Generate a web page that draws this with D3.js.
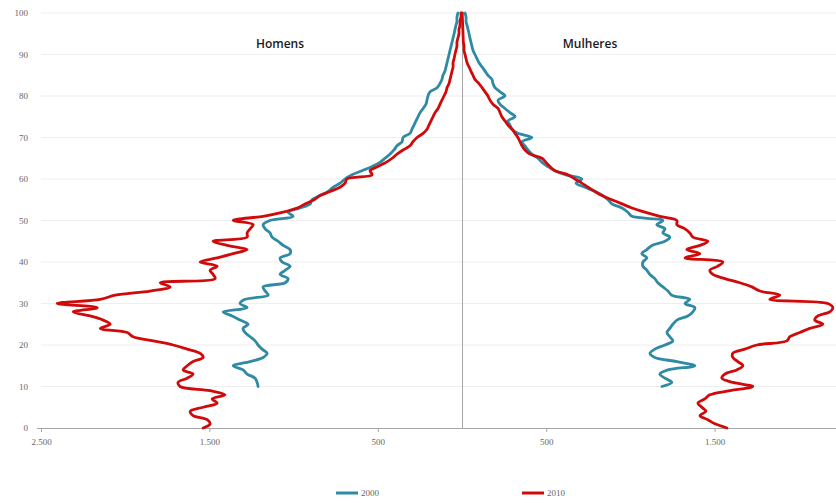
<!DOCTYPE html>
<html><head><meta charset="utf-8">
<script src="https://cdn.jsdelivr.net/npm/d3@7"></script>
<style>html,body{margin:0;padding:0;background:#fff;}svg{display:block;}</style>
</head><body>
<svg id="chart" width="836" height="503"></svg>
<script>
const ages = d3.range(0, 101);
const xTicks = [-2500, -1500, -500, 500, 1500];
const yTicks = [0,10,20,30,40,50,60,70,80,90,100];
const seriesNames = ["2000", "2010"];
const sideLabels = ["Homens", "Mulheres"];

const male2010 = [1537,1496,1513,1597,1614,1537,1454,1484,1407,1496,
1674,1686,1632,1597,1656,1632,1597,1537,1555,1632,
1715,1834,1953,1988,2148,2089,2131,2208,2309,2166,
2404,2148,2059,1852,1733,1792,1466,1478,1496,1454,
1555,1454,1359,1276,1395,1478,1276,1276,1258,1240,
1359,1181,1062,979,932,878,843,783,724,694,
683,534,546,499,451,415,386,350,309,291,
267,231,208,196,184,172,160,142,131,119,
107,95,89,77,71,65,59,53,53,47,
42,36,30,30,24,18,18,12,12,6,6];

const male2000 = [null,null,null,null,null,null,null,null,null,null,
1211,1217,1229,1276,1300,1359,1258,1181,1157,1187,
1211,1229,1258,1288,1300,1270,1318,1365,1418,1276,
1318,1288,1151,1169,1181,1050,1033,1080,1050,1021,
1068,1080,1021,1021,1062,1092,1128,1140,1169,1181,
1140,1003,1033,961,902,890,843,795,766,724,
694,653,594,534,487,457,427,404,386,356,
350,309,297,285,273,261,249,231,214,208,
202,190,148,131,119,113,101,95,89,83,
77,71,65,59,53,47,42,36,30,30,24];

const female2010 = [1573,1502,1460,1413,1448,1424,1401,1442,1472,1591,
1727,1608,1543,1561,1632,1668,1638,1608,1608,1680,
1751,1929,1947,2006,2065,2143,2095,2113,2184,2202,
2172,1828,1887,1769,1721,1650,1561,1490,1472,1519,
1549,1324,1413,1335,1413,1460,1371,1353,1324,1276,
1276,1175,1086,1009,950,890,831,789,748,712,
671,629,552,522,499,475,404,374,356,344,
332,315,297,273,255,237,226,214,184,166,
154,137,119,101,77,65,53,42,30,24,
18,12,12,8,7,6,5,4,3,2,2];

const female2000 = [null,null,null,null,null,null,null,null,null,null,
1187,1246,1205,1175,1223,1383,1276,1145,1116,1145,
1205,1252,1234,1217,1234,1252,1276,1341,1371,1383,
1324,1353,1246,1223,1193,1163,1145,1116,1098,1074,
1074,1098,1068,1098,1128,1205,1234,1193,1205,1157,
1193,1009,985,950,890,867,837,789,730,677,
712,617,552,510,475,451,415,392,374,356,
415,332,297,285,273,315,285,255,226,214,
255,226,196,184,178,154,137,119,101,89,
77,65,59,53,47,42,36,30,24,24,18];

const colors = {"2000": "#2f8aa3", "2010": "#d00a0a"};

const svg = d3.select("#chart");
const x = d3.scaleLinear().domain([-2500, 2500]).range([41, 883]);
const y = d3.scaleLinear().domain([0, 100]).range([428, 13]);
const W = 836;

// gridlines
svg.append("g").selectAll("line").data(yTicks.filter(d => d > 0)).join("line")
  .attr("x1", x(-2500)).attr("x2", W).attr("y1", d => y(d)).attr("y2", d => y(d))
  .attr("stroke", "#eeeeee").attr("stroke-width", 1);

// y tick labels
svg.append("g").selectAll("text").data(yTicks).join("text")
  .attr("x", 28).attr("y", d => y(d) + 3).attr("text-anchor", "end")
  .attr("font-family", "Liberation Serif, serif").attr("font-size", 9).attr("fill", "#666")
  .text(d => d);

// x axis
const xAxis = d3.axisBottom(x).tickValues(xTicks).tickSize(4)
  .tickFormat(d => d3.format(",")(Math.abs(d)).replace(/,/g, "."));
const gx = svg.append("g").attr("transform", `translate(0,${y(0)})`).call(xAxis);
gx.select(".domain").remove();
gx.append("line").attr("x1", x(-2500)).attr("x2", W).attr("y1", 0.5).attr("y2", 0.5).attr("stroke", "#a6a6a6");
gx.selectAll(".tick line").attr("stroke", "#a6a6a6");
gx.selectAll(".tick text").attr("font-family", "Liberation Serif, serif").attr("font-size", 9).attr("fill", "#666").attr("dy", "1.1em");
svg.append("line").attr("x1", x(-2500) - 4).attr("x2", x(-2500)).attr("y1", y(0) + 0.5).attr("y2", y(0) + 0.5).attr("stroke", "#a6a6a6");

// centre axis
svg.append("line").attr("x1", x(0) + 0.5).attr("x2", x(0) + 0.5).attr("y1", y(100)).attr("y2", y(0))
  .attr("stroke", "#a6a6a6").attr("stroke-width", 1);

// lines
const line = d3.line().defined(d => d.v != null)
  .x(d => x(d.v)).y(d => y(d.age)).curve(d3.curveCatmullRom.alpha(0.5));
const series = [
  {name: "2000", side: -1, vals: male2000},
  {name: "2000", side: 1, vals: female2000},
  {name: "2010", side: -1, vals: male2010},
  {name: "2010", side: 1, vals: female2010}
];
const plot = svg.append("g");
series.forEach(s => {
  const pts = ages.map((a, i) => ({age: a, v: s.vals[i] == null ? null : s.side * s.vals[i]}));
  plot.append("path").datum(pts).attr("d", line)
    .attr("fill", "none").attr("stroke", colors[s.name]).attr("stroke-width", 2.8)
    .attr("stroke-linejoin", "round").attr("stroke-linecap", "round");
});

// side labels
svg.append("text").attr("x", 280).attr("y", 48).attr("text-anchor", "middle")
  .attr("font-family", "Open Sans, sans-serif").attr("font-weight", 600).attr("font-size", 12).attr("fill", "#1a1a1a")
  .text(sideLabels[0]);
svg.append("text").attr("x", 590).attr("y", 48).attr("text-anchor", "middle")
  .attr("font-family", "Open Sans, sans-serif").attr("font-weight", 600).attr("font-size", 12).attr("fill", "#1a1a1a")
  .text(sideLabels[1]);

// legend
const legX = [336, 522];
seriesNames.forEach((n, i) => {
  const g = svg.append("g").attr("transform", `translate(${legX[i]},493)`);
  g.append("line").attr("x1", 0).attr("x2", 22).attr("y1", 0).attr("y2", 0)
    .attr("stroke", colors[n]).attr("stroke-width", 3);
  g.append("text").attr("x", 25).attr("y", 3).attr("font-family", "Liberation Serif, serif")
    .attr("font-size", 9).attr("fill", "#666").text(n);
});
</script>
</body></html>
